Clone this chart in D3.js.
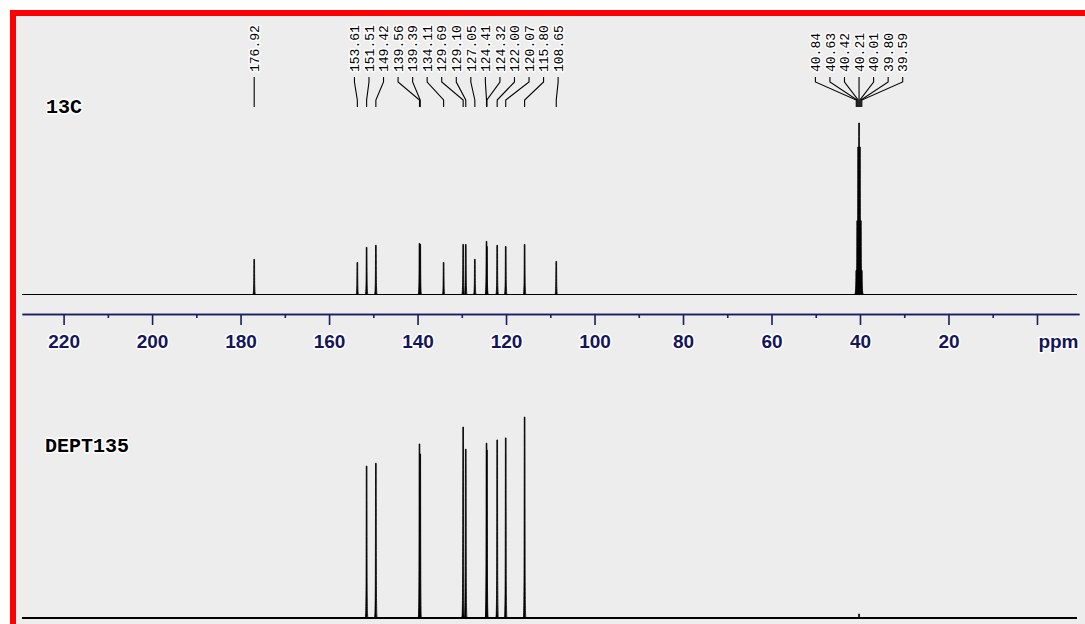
<!DOCTYPE html>
<html>
<head>
<meta charset="utf-8">
<script src="https://cdn.jsdelivr.net/npm/d3@7"></script>
<style>
body { margin:0; background:#fff; }
svg { display:block; }
.lbl { font-family:"Liberation Mono", "Courier New", monospace; font-size:13px; fill:#000; }
.title { font-family:"Liberation Mono", "Courier New", monospace; font-weight:bold; font-size:20px; fill:#000; }
.axis text { font-family:"Liberation Sans", Arial, sans-serif; font-weight:bold; font-size:19px; fill:#15155c; }
.halo { paint-order:stroke; stroke:#fff; stroke-width:3px; stroke-linejoin:round; }
</style>
</head>
<body>
<svg width="1085" height="624"></svg>
<script>
var shifts13C = [176.92, 153.61, 151.51, 149.42, 139.56, 139.39, 134.11, 129.69, 129.10, 127.05, 124.41, 124.32, 122.00, 120.07, 115.80, 108.65];
var heights13C = [20.5, 18.7, 27.5, 28.7, 29.8, 29.2, 18.7, 29.2, 29.2, 20.5, 31, 28, 28.7, 28, 29.2, 19.3];
var shiftsDMSO = [40.84, 40.63, 40.42, 40.21, 40.01, 39.80, 39.59];
var heightsDMSO = [14, 43, 86, 100, 86, 43, 14];
var shiftsDEPT = [151.51, 149.42, 139.56, 139.39, 129.69, 129.10, 124.41, 124.32, 122.00, 120.07, 115.80, 40.21];
var heightsDEPT = [75.6, 77, 86.6, 81.6, 95, 84, 87, 83.6, 88.6, 89.6, 100, 2];
var majorTicks = [220, 200, 180, 160, 140, 120, 100, 80, 60, 40, 20, 0];
var minorTicks = [210, 190, 170, 150, 130, 110, 90, 70, 50, 30, 10];
var labelGroups = [[176.92], shifts13C.slice(1), shiftsDMSO];
var spectrumNames = ["13C", "DEPT135"];

var svg = d3.select("svg");
var navy = "#1b1b60";

// frame
svg.append("rect")
.attr("x", 13)
.attr("y", 13)
.attr("width", 1100)
.attr("height", 700)
.attr("fill", "#ededed")
.attr("stroke", "#ff0000")
.attr("stroke-width", 6);

var x = d3.scaleLinear().domain([229.4, -9.5]).range([22, 1079]);
var y13 = d3.scaleLinear().domain([0, 100]).range([294.5, 123]);
var yDept = d3.scaleLinear().domain([0, 100]).range([618, 417]);

function spike(px, base, top, hw) {
  var h = base - top;
  return "M" + (px - hw) + "," + base +
    " C" + (px - 0.5) + "," + base + " " + (px - 0.5) + "," + (base - h * 0.15) + " " + (px - 0.35) + "," + top +
    " L" + (px + 0.35) + "," + top +
    " C" + (px + 0.5) + "," + (base - h * 0.15) + " " + (px + 0.5) + "," + base + " " + (px + hw) + "," + base + "Z";
}

function drawSpectrum(shifts, heights, yScale, hw, baseWidth) {
  var g = svg.append("g");
  g.append("line")
  .attr("x1", 22)
  .attr("x2", 1077)
  .attr("y1", yScale(0))
  .attr("y2", yScale(0))
  .attr("stroke", "#000")
  .attr("stroke-width", baseWidth);
  g.selectAll(".peak")
  .data(shifts)
  .enter()
  .append("path")
  .attr("class", "peak")
  .attr("d", (d, i) => spike(x(d), yScale(0), yScale(heights[i]), hw))
  .attr("fill", "#000")
  .attr("stroke", "#000")
  .attr("stroke-width", 0.8);
  return g;
}

drawSpectrum(shifts13C, heights13C, y13, 1.6, 1);
drawSpectrum(shiftsDMSO, heightsDMSO, y13, 2.2, 0);
drawSpectrum(shiftsDEPT, heightsDEPT, yDept, 1.4, 2.2);

// peak labels with leader lines
var labelTop = 72;
var lg = svg.append("g");
labelGroups.forEach(function(group) {
  var mean = d3.mean(group, d => x(d));
  var n = group.length;
  group.forEach(function(d, i) {
    var lx = mean + (i - (n - 1) / 2) * 14.55;
    var px = x(d);
    lg.append("path")
    .attr("d", d3.line()([[lx, 77], [lx, 82], [px, 100], [px, 107]]))
    .attr("fill", "none")
    .attr("stroke", "#000")
    .attr("stroke-width", 1.1);
    lg.append("text")
    .attr("class", "lbl halo")
    .attr("transform", "translate(" + lx + "," + labelTop + ") rotate(-90)")
    .attr("dy", "0.36em")
    .text(d.toFixed(2));
  });
});

// axis
var minorAxis = svg.append("g")
.attr("class", "axis")
.attr("transform", "translate(0,314)")
.call(d3.axisBottom(x).tickValues(minorTicks).tickSize(4).tickSizeOuter(0).tickFormat(""));

var majorAxis = svg.append("g")
.attr("class", "axis")
.attr("transform", "translate(0,314)")
.call(d3.axisBottom(x).tickValues(majorTicks).tickSize(11).tickPadding(10).tickSizeOuter(0)
  .tickFormat(d => d === 0 ? "ppm" : d));

svg.selectAll(".axis path, .axis line")
.attr("stroke", navy)
.attr("stroke-width", 1.6);

majorAxis.selectAll("text")
.attr("class", "halo")
.attr("dx", d => d === 0 ? 21 : 0);

svg.append("text")
.attr("class", "title halo")
.attr("x", 46)
.attr("y", 113)
.text(spectrumNames[0]);

svg.append("text")
.attr("class", "title halo")
.attr("x", 45)
.attr("y", 452)
.text(spectrumNames[1]);
</script>
</body>
</html>
